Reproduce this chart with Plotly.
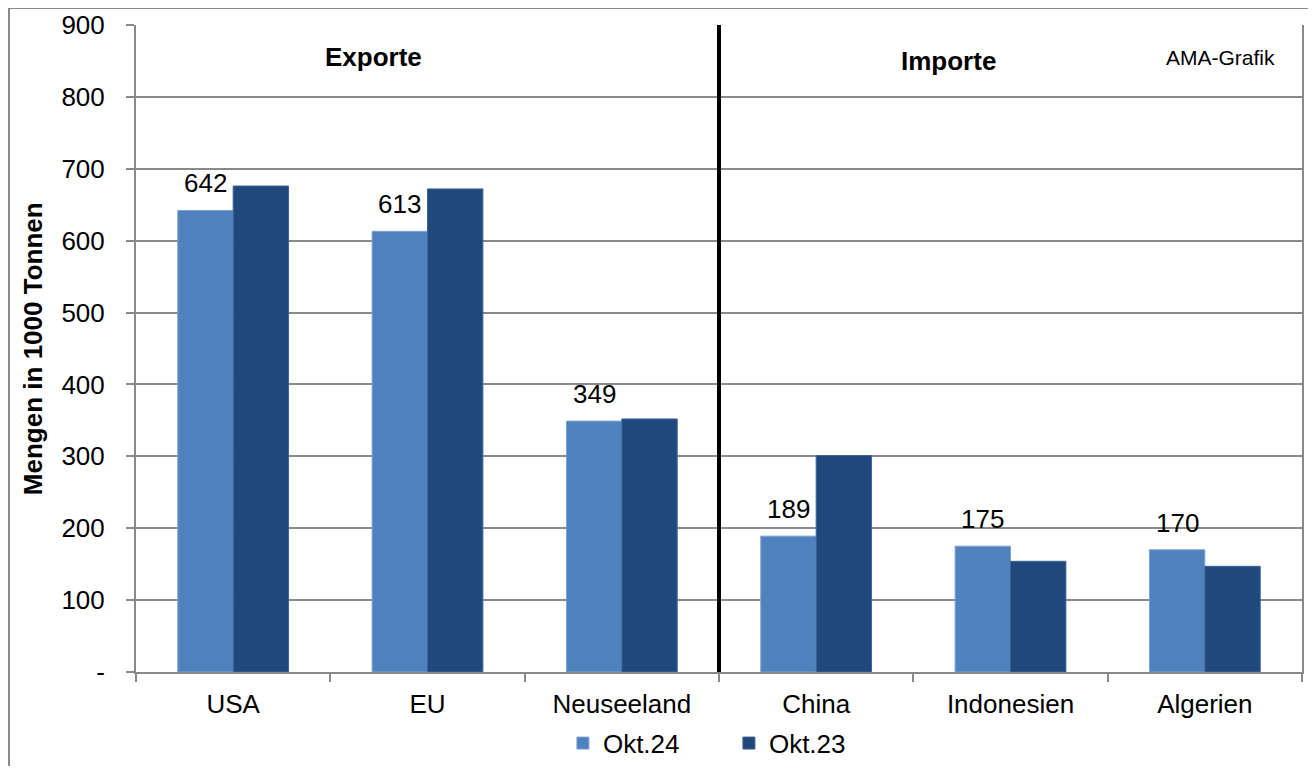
import plotly.graph_objects as go

categories = ["USA", "EU", "Neuseeland", "China", "Indonesien", "Algerien"]
okt24 = [642, 613, 349, 189, 175, 170]
okt23 = [676, 672, 352, 301, 154, 147]
series_names = ["Okt.24", "Okt.23"]
y_ticks = [0, 100, 200, 300, 400, 500, 600, 700, 800, 900]
y_tick_labels = ["-", "100", "200", "300", "400", "500", "600", "700", "800", "900"]

FONT = "Liberation Sans, Arial, sans-serif"
BARGAP = 0.43
GRID = "#8a8a8a"
W, H = 1300, 758

fig = go.Figure()
fig.add_trace(go.Bar(
    x=categories, y=okt24, name=series_names[0],
    marker=dict(color="#4F81BD", line=dict(color="#7FA3D3", width=1)),
))
fig.add_trace(go.Bar(
    x=categories, y=okt23, name=series_names[1],
    marker=dict(color="#1F497D", line=dict(color="#3E6496", width=1)),
))

# value labels above the Okt.24 bars
bar_w = (1 - BARGAP) / 2
annotations = []
for i, v in enumerate(okt24):
    annotations.append(dict(
        x=i - bar_w / 2, y=v, xref="x", yref="y", text=str(v), showarrow=False,
        xanchor="center", yanchor="bottom", yshift=10,
        font=dict(size=26, color="black", family=FONT),
    ))

annotations += [
    dict(text="<b>Exporte</b>", xref="paper", yref="paper", x=0.204, y=0.950,
         showarrow=False, font=dict(size=26), xanchor="center", yanchor="middle"),
    dict(text="<b>Importe</b>", xref="paper", yref="paper", x=0.697, y=0.944,
         showarrow=False, font=dict(size=26), xanchor="center", yanchor="middle"),
    dict(text="AMA-Grafik", xref="paper", yref="paper", x=0.930, y=0.949,
         showarrow=False, font=dict(size=21), xanchor="center", yanchor="middle"),
    dict(text="<b>Mengen in 1000 Tonnen</b>", xref="paper", yref="paper",
         x=(33 - 136) / 1166, y=0.499, textangle=-90, showarrow=False,
         font=dict(size=26), xanchor="center", yanchor="middle"),
]

fig.update_layout(
    width=W, height=H,
    margin=dict(l=128, r=6, t=17, b=94, autoexpand=False),
    paper_bgcolor="white", plot_bgcolor="white",
    font=dict(family=FONT, size=26, color="black"),
    barmode="group", bargap=BARGAP, bargroupgap=0,
    showlegend=True,
    legend=dict(orientation="h", x=0.5085, xanchor="center", y=-0.11, yanchor="middle",
                font=dict(size=26), entrywidth=121, traceorder="normal"),
    xaxis=dict(
        type="category", tickson="boundaries", ticks="outside", ticklen=8,
        tickcolor=GRID, tickwidth=2, showline=True, linecolor=GRID, linewidth=2,
        showgrid=False, tickfont=dict(size=26), ticklabelstandoff=8, automargin=False,
    ),
    yaxis=dict(
        range=[0, 900], tickvals=y_ticks, ticktext=y_tick_labels,
        ticks="outside", ticklen=8, tickcolor=GRID, tickwidth=2,
        showline=True, mirror=True, linecolor=GRID, linewidth=2,
        showgrid=True, gridcolor=GRID, gridwidth=2, zeroline=False,
        tickfont=dict(size=26), ticklabelstandoff=16, automargin=False,
    ),
    shapes=[
        dict(type="line", xref="x", yref="paper", x0=2.5, x1=2.5, y0=0, y1=1,
             line=dict(color="black", width=4)),
        dict(type="rect", xref="paper", yref="paper",
             x0=(9 - 136) / 1166, x1=1.2, y0=(672 - 8) / 647, y1=-0.3,
             line=dict(color=GRID, width=2), layer="below"),
    ],
    annotations=annotations,
)

fig.write_html("out.html")
